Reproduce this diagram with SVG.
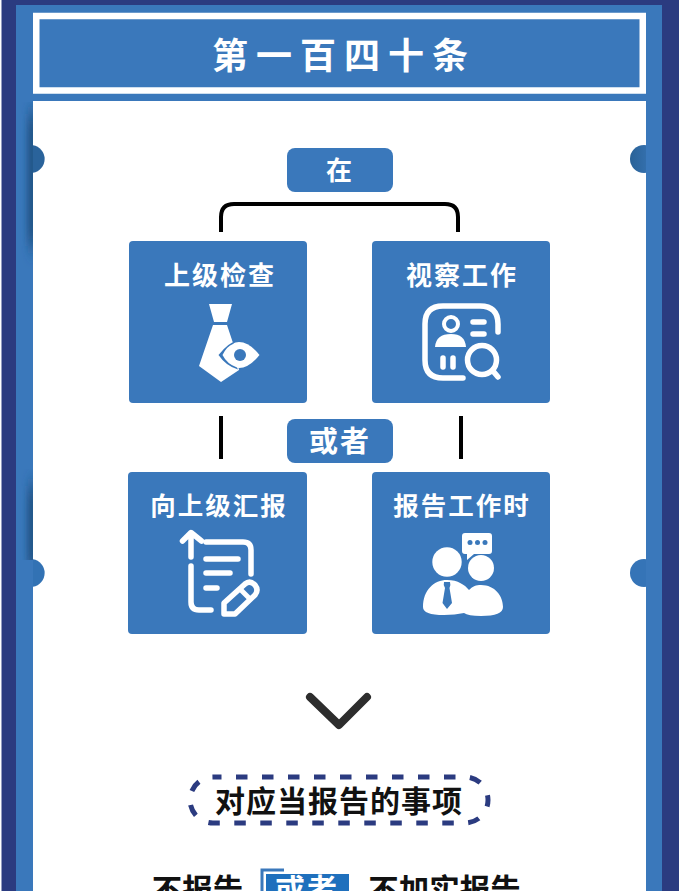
<svg xmlns="http://www.w3.org/2000/svg" width="679" height="891" viewBox="0 0 679 891">
<style>
text{font-family:"Noto Sans CJK SC","Noto Sans",sans-serif;font-weight:700;text-anchor:middle}
.w{fill:#fff}.k{fill:#111}
.box{fill:#3a78bb}
.t{font-size:26px;letter-spacing:2px;fill:#fff}
.ln{fill:none;stroke:#fff;stroke-width:5.500;stroke-linecap:round;stroke-linejoin:round}
.c{fill:none;stroke:#000;stroke-width:4}
</style>
<defs>
<linearGradient id="cl" x1="0" x2="1" y1="0" y2="0"><stop offset="0" stop-color="#245a8e"/><stop offset="1" stop-color="#2f6ba6"/></linearGradient>
<linearGradient id="cr" x1="0" x2="1" y1="0" y2="0"><stop offset="0" stop-color="#2a6297"/><stop offset="1" stop-color="#3a78bb"/></linearGradient>
<filter id="bl" x="-150%" y="-20%" width="400%" height="140%"><feGaussianBlur stdDeviation="3.500 10"/></filter>
<clipPath id="cp1"><rect x="16" y="102" width="17" height="240"/></clipPath>
<clipPath id="cp2"><rect x="16" y="440" width="17" height="120"/></clipPath>
</defs>
<rect width="679" height="891" fill="#2b3b80"/>
<rect x="0" width="1.500" height="891" fill="#fff"/>
<rect x="16" y="5" width="646" height="886" fill="#3a78bb"/>
<g clip-path="url(#cp1)"><rect x="28" y="114" width="8" height="132" fill="#1d4d7c" filter="url(#bl)"/></g>
<g clip-path="url(#cp2)"><rect x="28" y="486" width="8" height="84" fill="#1d4d7c" filter="url(#bl)"/></g>
<rect x="33" y="101" width="613" height="790" fill="#fff"/>
<path d="M33 145.200A14 14 0 0 1 33 172.800Z" fill="#2a639b"/>
<path d="M33 559.200A14 14 0 0 1 33 586.800Z" fill="#3272b4"/>
<circle cx="644" cy="159" r="14" fill="url(#cr)"/>
<circle cx="644" cy="573" r="14" fill="#3574b7"/>
<rect x="646" y="101" width="16" height="790" fill="#3a78bb"/>

<g id="title">
<rect x="36.250" y="16" width="606.500" height="74.500" fill="#3a78bb" stroke="#fff" stroke-width="6.500"/>
<text x="344" y="69" class="w" style="font-size:36px;letter-spacing:8px">第一百四十条</text>
</g>

<g id="connectors">
<path class="c" d="M221 232V217Q221 204 234 204H445Q458 204 458 217V232"/>
<path class="c" d="M221 416V459M461 416V459"/>
</g>

<g id="node-zai">
<rect class="box" x="287" y="148" width="106" height="44" rx="8"/>
<text x="340" y="180" class="t">在</text>
</g>
<g id="node-huozhe">
<rect class="box" x="287" y="419" width="106" height="44" rx="8"/>
<text x="340" y="452" class="w" style="font-size:29px;letter-spacing:2px">或者</text>
</g>

<g id="node-jiancha">
<rect class="box" x="129" y="241" width="178" height="162" rx="4"/>
<text x="220" y="285" class="t">上级检查</text>
<path class="w" d="M209 304H232L227 322H214ZM213 325H227L234 346L239 370L221 382L199 366Z"/>
<path d="M218.500 355Q239 329 259.500 355Q239 381 218.500 355Z" fill="#fff"/>
<path d="M218.500 355Q229 342 236 341.500L233 344Q227 346 222.500 355Q227 364 237 367.500L238 369.500Q226 366 218.500 355Z" fill="#3a78bb"/>
<circle cx="240" cy="355" r="6" fill="#3a78bb"/>
</g>

<g id="node-shicha">
<rect class="box" x="372" y="241" width="178" height="162" rx="4"/>
<text x="462" y="285" class="t">视察工作</text>
<path class="ln" d="M498 332V324Q498 306 480 306H443Q425 306 425 324V360Q425 378 443 378H463"/>
<circle cx="451" cy="324" r="7" fill="none" stroke="#fff" stroke-width="4"/>
<path d="M435 347Q436 334 451 334Q465 334 466 347Z" class="w"/>
<path class="ln" d="M473 322H484M473 334H484M443 358V367M453 358V367"/>
<circle cx="482" cy="360" r="14.500" class="ln"/>
<path class="ln" d="M493 371L498 377"/>
</g>

<g id="node-huibao">
<rect class="box" x="128" y="472" width="179" height="162" rx="4"/>
<text x="219" y="515" class="t" style="font-size:25.500px">向上级汇报</text>
<path class="ln" d="M191 557V533M182.500 541L191 532.500L201.500 541"/>
<path class="ln" d="M206 542H243Q251 542 251 550V574M191 566V602Q191 610 199 610H211"/>
<path class="ln" d="M206 559H238M206 573H230M206 588H217"/>
<path d="M224 603L245 584Q250 580 255 585Q259 590 255 595L235 614H224Z" fill="none" stroke="#fff" stroke-width="5.500" stroke-linejoin="round"/>
<path d="M240 589L250 599" stroke="#fff" stroke-width="5"/>
</g>

<g id="node-shi">
<rect class="box" x="372" y="472" width="178" height="162" rx="4"/>
<text x="462" y="515" class="t" style="font-size:25.500px">报告工作时</text>
<path class="w" d="M465 533H489Q492 533 492 536V551Q492 554 489 554H474L467 560V554H465Q462 554 462 551V536Q462 533 465 533Z"/>
<circle cx="470" cy="542.500" r="2.500" fill="#3a78bb"/><circle cx="477.500" cy="542.500" r="2.500" fill="#3a78bb"/><circle cx="485" cy="542.500" r="2.500" fill="#3a78bb"/>
<circle cx="447" cy="562" r="14.700" class="w"/>
<circle cx="481" cy="568" r="13" class="w"/>
<path class="w" d="M423 607C423 590 434 580 447 580C458 580 465 585 469 590C473 586 476 585 481 585C495 585 503 596 503 607Q503 616 481 616Q468 616 464 613Q455 615 444 615Q423 615 423 607Z"/>
<path d="M444 582H450Q451 585 449.500 588L452 603L447 609L442.500 603L445 588Q443 585 444 582Z" fill="#3a78bb"/>
</g>

<path id="chevron" d="M310 697L339 725L367 697" fill="none" stroke="#2d2d2d" stroke-width="8" stroke-linecap="round" stroke-linejoin="round"/>

<g id="node-shixiang">
<rect x="190" y="777" width="298" height="46" rx="23" fill="#fff" stroke="#2b3b80" stroke-width="5" stroke-dasharray="11.500 14.500" stroke-dashoffset="3"/>
<text x="339" y="812" class="k" style="font-size:30px;letter-spacing:1px">对应当报告的事项</text>
</g>

<g id="bottom">
<text x="197.500" y="901" class="k" style="font-size:30.500px">不报告</text>
<path d="M262 891V870H284" fill="none" stroke="#3a78bb" stroke-width="3"/>
<rect x="266" y="874" width="83" height="17" fill="#1f70bd"/>
<text x="307" y="900" class="w" style="font-size:30px;letter-spacing:2px">或者</text>
<text x="444.500" y="901" class="k" style="font-size:30.500px">不加实报告</text>
</g>
</svg>
